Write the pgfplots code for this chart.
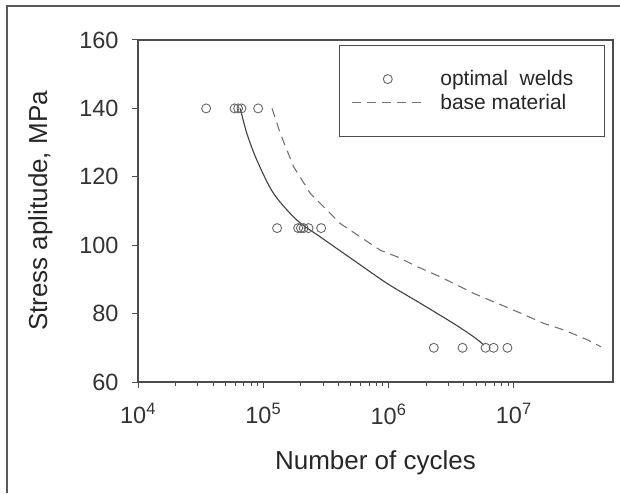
\documentclass[border=0pt]{standalone}
\usepackage{pgfplots}
\pgfplotsset{compat=1.18}
\usepackage{fontspec}
\setmainfont{Liberation Sans}
\pgfplotsset{
  legmark/.style={legend image code/.code={\path[draw=none,fill=none] (0pt,-4pt) rectangle (72pt,4pt);\draw[mark repeat=2,mark phase=2,##1] plot coordinates {(0pt,0pt) (36pt,0pt) (72pt,0pt)};}},
  legline/.style={legend image code/.code={\path[draw=none,fill=none] (0pt,-4pt) rectangle (72pt,4pt);\draw[##1] (0pt,0pt) -- (72pt,0pt);}},
}
\begin{document}
\begin{tikzpicture}
\useasboundingbox (-138pt,-111pt) rectangle (482pt,382pt);
\draw[black!65, line width=1.6pt] (-131pt,-111pt) -- (-131pt,376pt) -- (482pt,376pt);
\begin{axis}[
  at={(0pt,0pt)}, anchor=south west,
  scale only axis, width=475pt, height=342pt,
  xmode=log, xmin=1e4, xmax=6.2e7, ymin=60, ymax=160,
  xtick={1e4,1e5,1e6,1e7},
  xticklabels={10\textsuperscript{4},10\textsuperscript{5},10\textsuperscript{6},10\textsuperscript{7}},
  ytick={60,80,100,120,140,160},
  yticklabels={60,80,100,120,140,160},
  tick align=outside, xtick pos=bottom, ytick pos=left,
  major tick length=6pt, minor tick length=4pt,
  axis line style={black!70, line width=1.2pt},
  every tick/.style={black!70, line width=1pt},
  ticklabel style={font=\fontsize{23.5}{28}\selectfont, text=black!80},
  xticklabel style={yshift=-12pt},
  yticklabel style={xshift=-10pt},
  xlabel={Number of cycles}, ylabel={Stress aplitude, MPa},
  label style={font=\fontsize{26}{31}\selectfont, text=black!85},
  xlabel style={yshift=-20pt},
  ylabel style={yshift=20pt},
  legend cell align=left,
  legend style={at={(0.983,0.985)}, anchor=north east, draw=black!70, line width=1.2pt,
    font=\fontsize{21}{25}\selectfont, text=black!85, inner xsep=12pt, inner ysep=23pt,
    nodes={inner xsep=7pt, inner ysep=2pt}, row sep=3pt},
]
\addplot[only marks, mark=o, mark size=4.5pt, draw=black!60, line width=0.9pt, legmark]
coordinates {
(3.5e4,140) (5.9e4,140) (6.3e4,140) (6.7e4,140) (9.1e4,140)
(1.29e5,105) (1.9e5,105) (2.0e5,105) (2.1e5,105) (2.3e5,105) (2.9e5,105)
(2.3e6,70) (3.9e6,70) (5.96e6,70) (6.9e6,70) (8.9e6,70)
};
\addlegendentry{\makebox[154pt][l]{\hspace{9pt}optimal\ \ welds}}
\addplot[black!55, line width=1.1pt, dash pattern=on 9pt off 6pt, legline]
coordinates {
(1.175e5,140) (1.37e5,132.6) (1.75e5,122.9) (2.38e5,115.1) (3.04e5,111.2)
(4.13e5,106.3) (5.97e5,102.4) (8.63e5,98.5) (1.175e6,96.6) (1.70e6,93.7)
(2.61e6,90.7) (4.79e6,85.9) (7.41e6,83.0) (1.14e7,80.1) (1.75e7,77.1)
(2.52e7,75.2) (3.89e7,72.3) (4.97e7,70.3)
};
\addlegendentry{\makebox[154pt][l]{\hspace{9pt}base material}}
\addplot[black!75, line width=1.1pt, smooth, forget plot]
coordinates {
(6.55e4,140) (7.41e4,132.6) (8.91e4,124.8) (1.21e5,115.1) (1.86e5,107.3)
(2.86e5,102.4) (5.27e5,95.6) (9.77e5,88.8) (1.80e6,83.0) (3.31e6,77.1)
(4.79e6,73.2) (5.78e6,70.8)
};
\end{axis}
\end{tikzpicture}
\end{document}
